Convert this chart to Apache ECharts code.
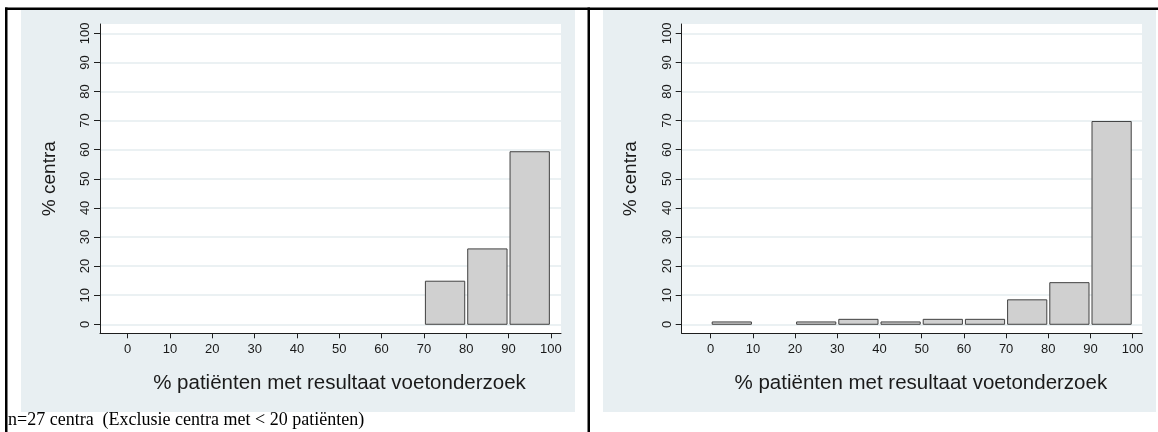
<!DOCTYPE html>
<html>
<head>
<meta charset="utf-8">
<script src="https://cdn.jsdelivr.net/npm/echarts@6.0.0/dist/echarts.min.js"></script>
<style>
  html, body { margin: 0; padding: 0; background: #ffffff; }
  #chart { width: 1158px; height: 432px; }
</style>
</head>
<body>
<div id="chart"></div>
<script>
// Histogram bins (lower edge of each 10%-wide bin)
const binStarts = [0, 10, 20, 30, 40, 50, 60, 70, 80, 90];
const binWidth = 10;
// % centra per bin, left panel (n=27 centra) and right panel
const leftPct  = [0, 0, 0, 0, 0, 0, 0, 14.8, 25.9, 59.3];
const rightPct = [0.8, 0, 0.8, 1.7, 0.8, 1.7, 1.7, 8.4, 14.3, 69.7];
// Tick values on both axes
const tickValues = [0, 10, 20, 30, 40, 50, 60, 70, 80, 90, 100];

const xTitle = '% patiënten met resultaat voetonderzoek';
const yTitle = '% centra';
const caption = 'n=27 centra\u00a0\u00a0(Exclusie centra met < 20 patiënten)';

const SANS = '"Liberation Sans", Arial, sans-serif';
const SERIF = '"Liberation Serif", "Times New Roman", serif';
const PANEL_BG = '#e8eff2';
const GRID_LINE = '#e4ecef';
const AXIS_COL = '#1e1e1e';
const TEXT_COL = '#1a1a1a';

function binData(values) {
  return binStarts.map((s, i) => [s, s + binWidth, values[i]]);
}

function renderBar(params, api) {
  const v = api.value(2);
  if (!v) return null;
  const p0 = api.coord([api.value(0), v]);
  const p1 = api.coord([api.value(1), 0]);
  const x = p0[0] + 1.5;
  const w = p1[0] - p0[0] - 3;
  return {
    type: 'rect',
    shape: { x: x, y: p0[1], width: w, height: p1[1] - p0[1] },
    style: { fill: '#d0d0d0', stroke: '#404040', lineWidth: 1 }
  };
}

function xAxisFor(gridIndex, min, max) {
  return {
    type: 'value', gridIndex: gridIndex, min: min, max: max,
    axisLine: { show: true, onZero: false, lineStyle: { color: AXIS_COL, width: 1 } },
    axisTick: { show: true, length: 5, customValues: tickValues, lineStyle: { color: AXIS_COL } },
    axisLabel: { show: true, customValues: tickValues, margin: 10, fontFamily: SANS, fontSize: 13, color: TEXT_COL },
    splitLine: { show: false },
    name: xTitle, nameLocation: 'middle', nameGap: 40,
    // title is centred on the 0–100 scale rather than on the whole plot width
    nameTextStyle: { fontFamily: SANS, fontSize: 20.5, color: TEXT_COL, padding: [0, 0, 0, 18] }
  };
}

function yAxisFor(gridIndex) {
  return {
    type: 'value', gridIndex: gridIndex, min: -3.1, max: 103.2,
    axisLine: { show: true, onZero: false, lineStyle: { color: AXIS_COL, width: 1 } },
    axisTick: { show: true, length: 6, customValues: tickValues, lineStyle: { color: AXIS_COL } },
    axisLabel: { show: true, customValues: tickValues, rotate: 90, margin: 8, fontFamily: SANS, fontSize: 13, color: TEXT_COL },
    splitLine: { show: true, lineStyle: { color: GRID_LINE, width: 1.5 } },
    name: yTitle, nameLocation: 'middle', nameGap: 41, nameRotate: 90,
    nameTextStyle: { fontFamily: SANS, fontSize: 19, color: TEXT_COL }
  };
}

const chart = echarts.init(document.getElementById('chart'), null, { renderer: 'canvas' });

chart.setOption({
  animation: false,
  backgroundColor: '#ffffff',
  graphic: [
    // panel backgrounds
    { type: 'rect', z: -10, shape: { x: 21, y: 10, width: 554, height: 402 }, style: { fill: PANEL_BG } },
    { type: 'rect', z: -10, shape: { x: 603, y: 10, width: 553, height: 402 }, style: { fill: PANEL_BG } },
    // frame lines
    { type: 'rect', z: -5, shape: { x: 5, y: 7.5, width: 1153, height: 2.5 }, style: { fill: '#000' } },
    { type: 'rect', z: -5, shape: { x: 5, y: 7.5, width: 2.5, height: 425 }, style: { fill: '#000' } },
    { type: 'rect', z: -5, shape: { x: 587.5, y: 7.5, width: 2.5, height: 425 }, style: { fill: '#000' } },
    // note under the left panel
    { type: 'text', left: 8, top: 411, style: { text: caption, font: '18px ' + SERIF, fill: '#000' } }
  ],
  grid: [
    { left: 100, top: 24, width: 461, height: 309.3, show: true, backgroundColor: '#ffffff', borderWidth: 0 },
    { left: 681.7, top: 24, width: 460.3, height: 309.3, show: true, backgroundColor: '#ffffff', borderWidth: 0 }
  ],
  xAxis: [xAxisFor(0, -6.55, 102.4), xAxisFor(1, -6.87, 102.2)],
  yAxis: [yAxisFor(0), yAxisFor(1)],
  series: [
    { type: 'custom', xAxisIndex: 0, yAxisIndex: 0, renderItem: renderBar, data: binData(leftPct), encode: { x: [0, 1], y: 2 } },
    { type: 'custom', xAxisIndex: 1, yAxisIndex: 1, renderItem: renderBar, data: binData(rightPct), encode: { x: [0, 1], y: 2 } }
  ]
});
</script>
</body>
</html>
